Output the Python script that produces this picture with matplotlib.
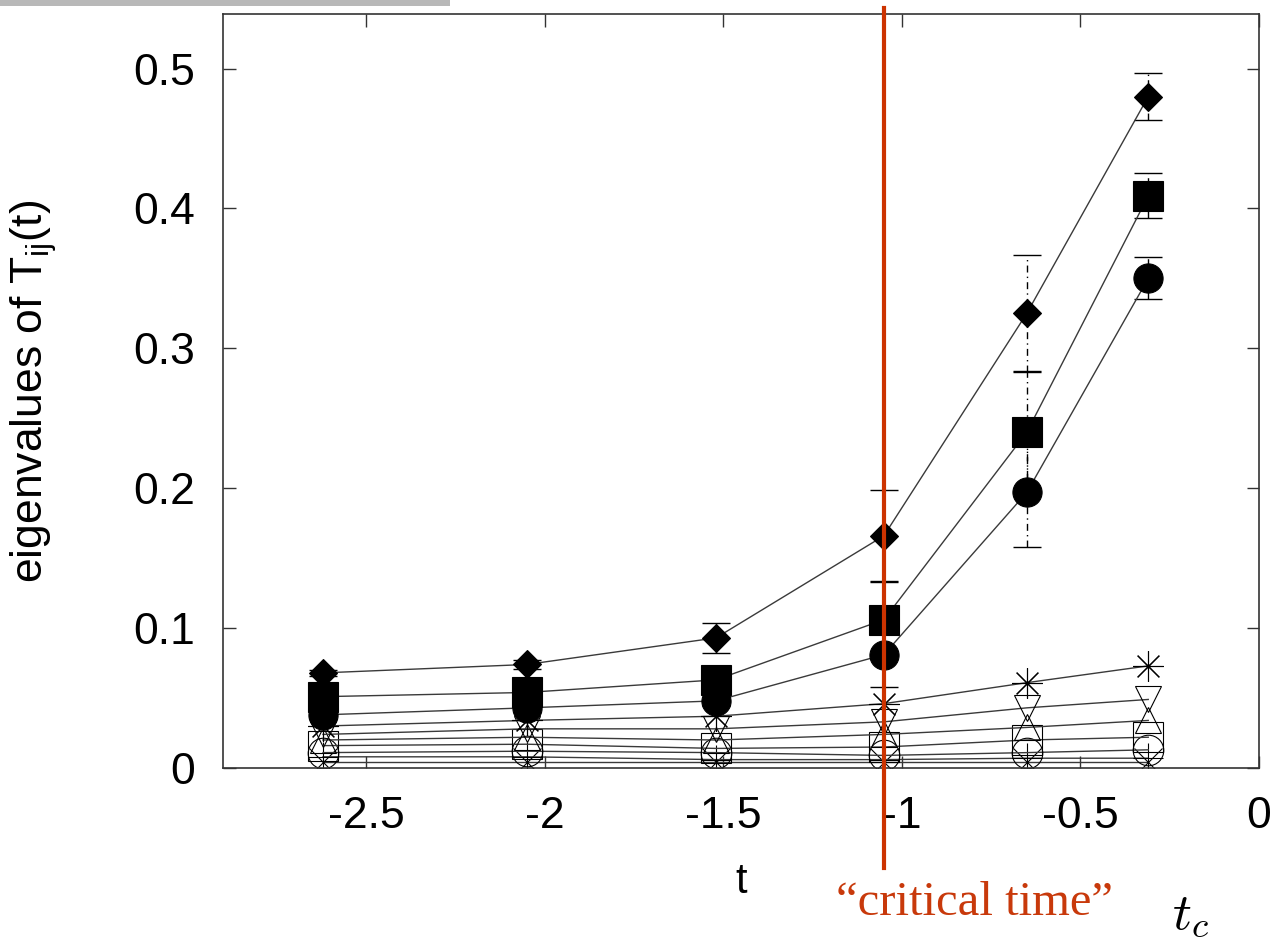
import numpy as np
import matplotlib
matplotlib.use("Agg")
import matplotlib.pyplot as plt
from matplotlib.patches import Rectangle

plt.rcParams['font.family'] = ['Liberation Sans', 'DejaVu Sans']
plt.rcParams['mathtext.fontset'] = 'custom'
plt.rcParams['mathtext.rm'] = 'Liberation Sans'
plt.rcParams['mathtext.it'] = 'Liberation Sans:italic'

# time points (t - tc)
t = [-2.62, -2.05, -1.52, -1.05, -0.65, -0.31]

# three leading eigenvalues, with error bars
ev_diamond = [0.068, 0.074, 0.093, 0.166, 0.325, 0.480]
err_diamond = [0.002, 0.003, 0.011, 0.033, 0.042, 0.017]
ev_square = [0.051, 0.054, 0.063, 0.106, 0.240, 0.409]
err_square = [0.002, 0.003, 0.004, 0.028, 0.044, 0.016]
ev_circle = [0.038, 0.043, 0.048, 0.081, 0.197, 0.350]
err_circle = [0.002, 0.003, 0.004, 0.023, 0.039, 0.015]

# the small eigenvalues
ev_star = [0.030, 0.034, 0.037, 0.046, 0.061, 0.073]
ev_tri_down = [0.024, 0.028, 0.028, 0.033, 0.043, 0.049]
ev_tri_up = [0.020, 0.022, 0.020, 0.024, 0.029, 0.034]
ev_osquare = [0.016, 0.017, 0.014, 0.015, 0.020, 0.022]
ev_ocircle = [0.011, 0.012, 0.011, 0.009, 0.011, 0.013]
ev_plus = [0.008, 0.008, 0.006, 0.006, 0.007, 0.007]
ev_cross = [0.004, 0.004, 0.004, 0.004, 0.004, 0.004]

t_critical = -1.05

xticks = [-2.5, -2, -1.5, -1, -0.5, 0]
xticklabels = ['-2.5', '-2', '-1.5', '-1', '-0.5', '0']
yticks = [0, 0.1, 0.2, 0.3, 0.4, 0.5]
yticklabels = ['0', '0.1', '0.2', '0.3', '0.4', '0.5']

fig = plt.figure(figsize=(12.74, 9.40), dpi=100)
ax = fig.add_axes([223/1274, 1 - 768/940, (1259 - 223)/1274, (768 - 14)/940])

line_kw = dict(color='#3a3a3a', lw=1.0, mec='black', mew=0.8)

# small eigenvalues first (below)
ax.plot(t, ev_cross, marker='x', ms=20, mfc='none', **line_kw)
ax.plot(t, ev_plus, marker='+', ms=22, mfc='none', **line_kw)
ax.plot(t, ev_ocircle, marker='o', ms=22, mfc='none', **line_kw)
ax.plot(t, ev_osquare, marker='s', ms=22, mfc='none', **line_kw)
ax.plot(t, ev_tri_up, marker='^', ms=19, mfc='none', **line_kw)
ax.plot(t, ev_tri_down, marker='v', ms=19, mfc='none', **line_kw)
ax.plot(t, ev_star, marker=(8, 2, 0), ms=22, mfc='none', **line_kw)

# leading eigenvalues with dash-dot error bars
for ev, err, mk, ms in [(ev_circle, err_circle, 'o', 21),
                        (ev_square, err_square, 's', 22),
                        (ev_diamond, err_diamond, 'D', 14)]:
    eb = ax.errorbar(t, ev, yerr=err, fmt='none', ecolor='black',
                     elinewidth=1.0, capsize=10, capthick=1.0)
    eb[2][0].set_linestyle((0, (5, 3, 1, 3)))
    ax.plot(t, ev, marker=mk, ms=ms, mfc='black', **line_kw)

ax.set_xlim(-2.9, 0)
ax.set_ylim(0, 0.539)
ax.set_xticks(xticks)
ax.set_xticklabels(xticklabels)
ax.set_yticks(yticks)
ax.set_yticklabels(yticklabels)
ax.tick_params(direction='in', length=9, width=1, top=True, right=True,
               labelsize=32, pad=20, colors='#333333', labelcolor='black')
for s in ax.spines.values():
    s.set_color('#333333')
    s.set_linewidth(1.2)

ax.set_xlabel('t', fontsize=30)
ax.xaxis.set_label_coords(0.5, -0.125)
ax.set_ylabel('eigenvalues of T$_{\\rm ij}$(t)', fontsize=32)
ax.yaxis.set_label_coords(-0.158, 0.5)

# critical time marker
trans = ax.get_xaxis_transform()
ax.plot([t_critical, t_critical], [-0.133, 1.008], color='#cc3300', lw=3,
        transform=trans, clip_on=False, zorder=10)
fig.text(975/1274, 1 - 903/940, '\u201ccritical time\u201d', color='#c8390b',
         fontsize=35, family='Liberation Serif', ha='center', va='center')
fig.text(1190/1274, 1 - 915/940, '$t_c$', fontsize=38, math_fontfamily='cm',
         ha='center', va='center')

# slide shadow at the top left
fig.patches.append(Rectangle((0, 1 - 6/940), 450/1274, 6/940,
                             transform=fig.transFigure, color='#9a9a9a',
                             alpha=0.7, lw=0))

fig.savefig('out.png', dpi=100)
